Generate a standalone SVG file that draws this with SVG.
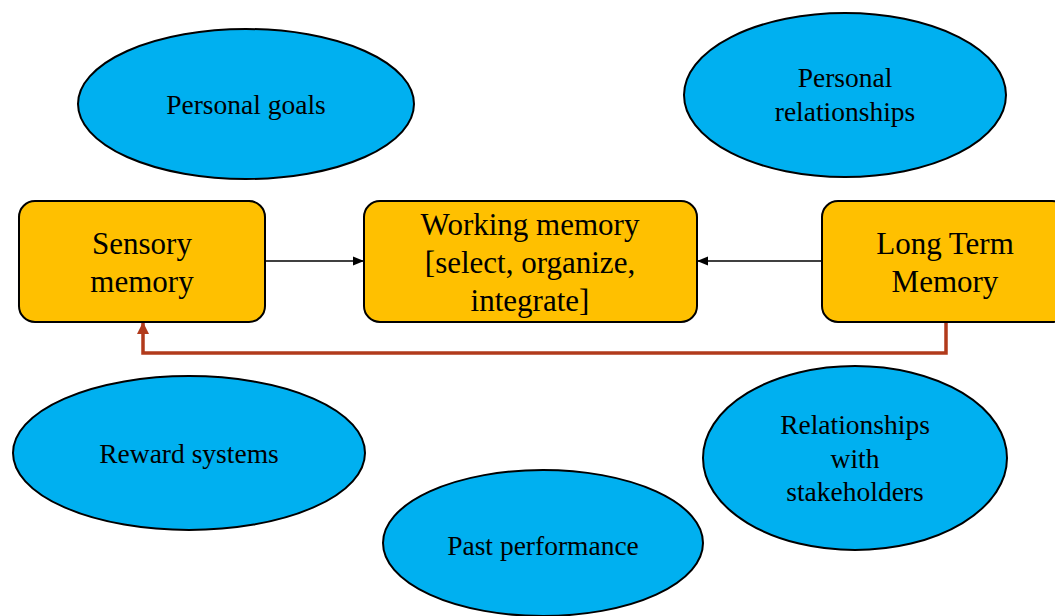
<svg xmlns="http://www.w3.org/2000/svg" width="1055" height="616" viewBox="0 0 1055 616">
<defs>
<style>
.ell{fill:#00B0F0;stroke:#000;stroke-width:2}
.box{fill:#FFC000;stroke:#000;stroke-width:2}
.et{font-family:"Liberation Serif","Times New Roman",serif;font-size:27.5px;fill:#000;text-anchor:middle}
.bt{font-family:"Liberation Serif","Times New Roman",serif;font-size:31px;fill:#000;text-anchor:middle}
.blk{stroke:#000;stroke-width:1.5;fill:none}
.red{stroke:#B13A1B;stroke-width:3.5;fill:none}
</style>
<marker id="ab" markerWidth="12" markerHeight="12" refX="10" refY="6" orient="auto" markerUnits="userSpaceOnUse">
<path d="M0,1.5 L11,6 L0,10.5 Z" fill="#000"/>
</marker>
<marker id="ar" markerWidth="14" markerHeight="14" refX="11" refY="7" orient="auto" markerUnits="userSpaceOnUse">
<path d="M0,1 L12,7 L0,13 Z" fill="#B13A1B"/>
</marker>
</defs>
<rect width="1055" height="616" fill="#fff"/>
<g id="connectors">
<line class="blk" x1="266" y1="261" x2="363" y2="261" marker-end="url(#ab)"/>
<line class="blk" x1="821" y1="261" x2="698" y2="261" marker-end="url(#ab)"/>
<path class="red" d="M946,322 V353 H143 V323" marker-end="url(#ar)"/>
</g>
<g id="personal-goals">
<ellipse class="ell" cx="246" cy="104" rx="168" ry="75"/>
<text class="et" x="246" y="114">Personal goals</text>
</g>
<g id="personal-relationships">
<ellipse class="ell" cx="845" cy="95" rx="161" ry="82"/>
<text class="et" x="845" y="87">Personal</text>
<text class="et" x="845" y="121">relationships</text>
</g>
<g id="sensory-memory">
<rect class="box" x="19" y="201" width="246" height="121" rx="16"/>
<text class="bt" x="142" y="254">Sensory</text>
<text class="bt" x="142" y="292">memory</text>
</g>
<g id="working-memory">
<rect class="box" x="364" y="201" width="333" height="121" rx="16"/>
<text class="bt" x="530" y="235">Working memory</text>
<text class="bt" x="530" y="273">[select, organize,</text>
<text class="bt" x="530" y="311">integrate]</text>
</g>
<g id="long-term-memory">
<rect class="box" x="822" y="201" width="246" height="121" rx="16"/>
<text class="bt" x="945" y="254">Long Term</text>
<text class="bt" x="945" y="292">Memory</text>
</g>
<g id="reward-systems">
<ellipse class="ell" cx="189" cy="453" rx="176" ry="77"/>
<text class="et" x="189" y="463">Reward systems</text>
</g>
<g id="relationships-stakeholders">
<ellipse class="ell" cx="855" cy="458" rx="152" ry="92"/>
<text class="et" x="855" y="434">Relationships</text>
<text class="et" x="855" y="468">with</text>
<text class="et" x="855" y="501">stakeholders</text>
</g>
<g id="past-performance">
<ellipse class="ell" cx="543" cy="543" rx="160" ry="73"/>
<text class="et" x="543" y="555">Past performance</text>
</g>
</svg>
